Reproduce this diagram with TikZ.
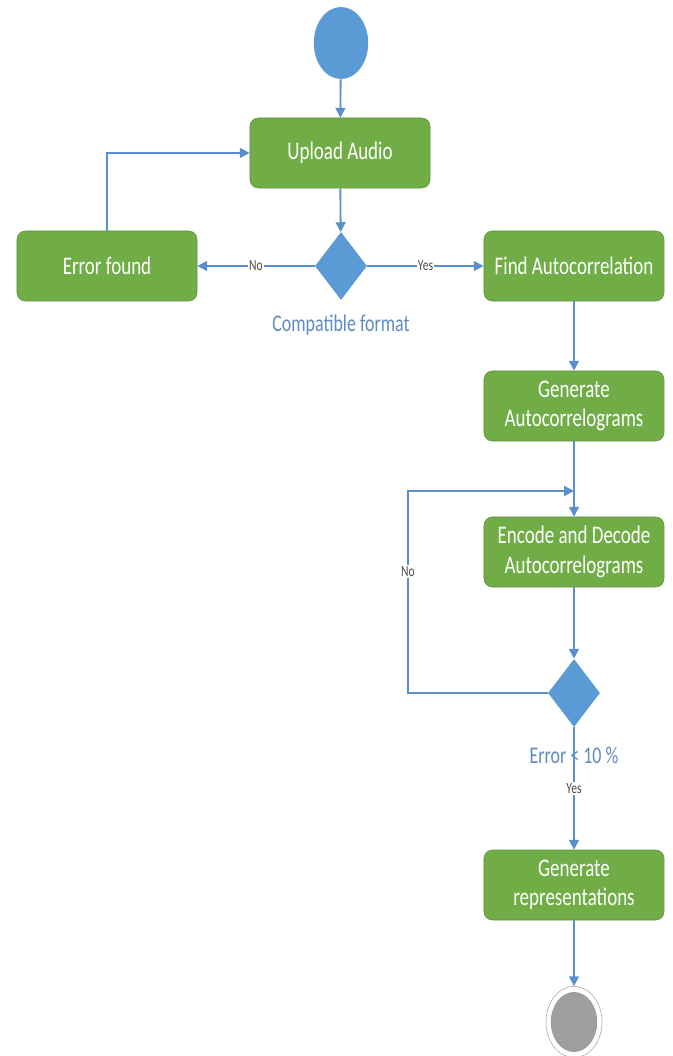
\documentclass[tikz,border=0pt]{standalone}
\usepackage{fontspec}
\usetikzlibrary{shapes.geometric,arrows.meta}
\newfontfamily\flowfont[FakeStretch=0.75]{Carlito}
\definecolor{actgreen}{HTML}{70AD47}
\definecolor{actblue}{HTML}{5B9BD5}
\definecolor{linkblue}{HTML}{5A8FCB}
\definecolor{labelblue}{HTML}{5E8BC4}

\begin{document}
\begin{tikzpicture}[x=0.025cm,y=-0.025cm]
    % `activity' is used for the green action boxes.
    % `decision' is used for the blue diamonds.
    % `flow' is used for all connectors, `guard' for their labels.
    \tikzstyle{activity} = [fill=actgreen,draw=actgreen!85!black,rounded corners=6pt,
                            minimum width=4.5cm,minimum height=1.75cm,align=center,
                            text=white,font=\flowfont\fontsize{18}{21}\selectfont]
    \tikzstyle{decision} = [diamond,fill=actblue,minimum width=1.3cm,minimum height=1.7cm,inner sep=0pt]
    \tikzstyle{flow} = [draw=linkblue,line width=1.3pt,-{Triangle[width=7pt,length=7pt]}]
    \tikzstyle{guard} = [fill=white,inner sep=1pt,text=black!70,font=\flowfont\fontsize{11}{13}\selectfont]
    \tikzstyle{caption} = [text=labelblue,font=\flowfont\fontsize{17}{20}\selectfont]
    %
    \useasboundingbox (0,0) rectangle (672,1056);
    %
    \node[ellipse,fill=actblue,minimum width=1.36cm,minimum height=1.8cm] (start) at (341,43) {};
    \node[activity] (upload) at (340,153) {Upload Audio};
    \node[decision] (format) at (341,266) {};
    \node[caption] (formatlbl) at (341,325) {Compatible format};
    \node[activity] (error) at (107,266) {Error found};
    \node[activity] (find) at (574,266) {Find Autocorrelation};
    \node[activity] (gen) at (574,406) {Generate\\Autocorrelograms};
    \node[activity] (enc) at (574,552) {Encode and Decode\\Autocorrelograms};
    \node[decision] (check) at (574,693) {};
    \node[caption] (checklbl) at (574,755) {Error < 10 \%};
    \node[activity] (rep) at (574,885) {Generate\\representations};
    \node[ellipse,draw=black!35,fill=white,minimum width=1.4cm,minimum height=1.78cm] (endring) at (574,1022) {};
    \node[ellipse,fill=black!38,minimum width=1.16cm,minimum height=1.5cm] (endnode) at (574,1022) {};
    %
    \coordinate (join) at (574,491);
    \coordinate (back) at (408,693);
    %
    \draw[flow] (start) -- (upload);
    \draw[flow] (upload) -- (format);
    \draw[flow] (format) -- node[guard] {No} (error);
    \draw[flow] (format) -- node[guard] {Yes} (find);
    \draw[flow] (error.north) |- (upload.west);
    \draw[flow] (find) -- (gen);
    \draw[flow] (gen) -- (enc);
    \draw[flow] (enc) -- (check);
    \draw[flow] (check.west) -- (back) |- node[guard,pos=0.3] {No} (join);
    \draw[flow] (check) -- node[guard,pos=0.5] {Yes} (rep);
    \draw[flow] (rep) -- (endring);
\end{tikzpicture}
\end{document}
